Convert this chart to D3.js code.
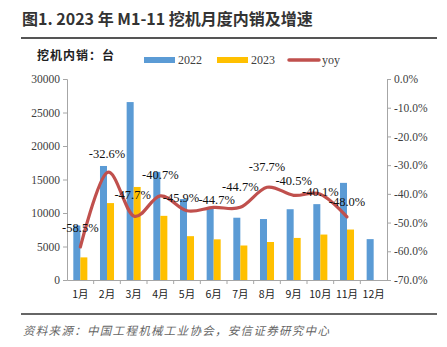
<!DOCTYPE html>
<html>
<head>
<meta charset="utf-8">
<script src="https://cdn.jsdelivr.net/npm/d3@7"></script>
<style>
  body { margin: 0; background: #fff; }
  svg { display: block; }
</style>
</head>
<body>
<div id="chart"></div>
<script>
// chart values
const months = ["1月", "2月", "3月", "4月", "5月", "6月", "7月", "8月", "9月", "10月", "11月", "12月"];
const sales2022 = [8132, 17018, 26556, 16141, 12090, 10868, 9296, 9100, 10563, 11323, 14496, 6100];
const sales2023 = [3375, 11480, 13887, 9575, 6542, 6069, 5149, 5671, 6279, 6783, 7531];
const yoy = [-58.5, -32.6, -47.7, -40.7, -45.9, -44.7, -44.7, -37.7, -40.5, -40.1, -48.0];
const leftTicks = [0, 5000, 10000, 15000, 20000, 25000, 30000];
const rightTicks = [0, -10, -20, -30, -40, -50, -60, -70];

// data label nudges (the original labels were dragged by hand)
const labelLift = [19, 19, 21, 21, 13, 7, 20, 20, 14, 2, 15];
const labelShift = [0, 0, -1, 0, -6, 3, 0, 0, 0, 0, 0];

const width = 447, height = 347;
const margin = { top: 79, right: 60, bottom: 67, left: 67 };
const serif = "'Liberation Serif', 'Times New Roman', serif";
const cjk = "'Noto Sans CJK SC', sans-serif";

const svg = d3.select("#chart").append("svg")
    .attr("width", width)
    .attr("height", height);

// title + rules
svg.append("text")
    .attr("x", 22).attr("y", 25)
    .attr("font-family", "'Noto Sans CJK SC', 'Liberation Sans', sans-serif")
    .attr("font-size", 16)
    .attr("font-weight", "bold")
    .attr("fill", "#333")
    .text("图1. 2023 年 M1-11 挖机月度内销及增速");

svg.append("line")
    .attr("x1", 21).attr("x2", 437).attr("y1", 38).attr("y2", 38)
    .attr("stroke", "#555").attr("stroke-width", 2);

svg.append("line")
    .attr("x1", 21).attr("x2", 437).attr("y1", 314).attr("y2", 314)
    .attr("stroke", "#333").attr("stroke-width", 1.5);

svg.append("text")
    .attr("x", 23).attr("y", 335)
    .attr("font-family", cjk)
    .attr("font-size", 11.5)
    .attr("letter-spacing", 1.3)
    .attr("font-style", "italic")
    .attr("fill", "#666")
    .text("资料来源：中国工程机械工业协会，安信证券研究中心");

svg.append("text")
    .attr("x", 37).attr("y", 60)
    .attr("font-family", cjk)
    .attr("font-size", 12)
    .attr("letter-spacing", 1)
    .attr("font-weight", "bold")
    .attr("fill", "#222")
    .text("挖机内销：台");

// scales
const x = d3.scaleBand()
    .domain(months)
    .range([margin.left, width - margin.right]);

const inner = d3.scaleBand()
    .domain(["2022", "2023"])
    .range([0, x.bandwidth()])
    .paddingInner(0)
    .paddingOuter(0.9);

const yLeft = d3.scaleLinear()
    .domain([0, 30000])
    .range([height - margin.bottom, margin.top]);

const yRight = d3.scaleLinear()
    .domain([-70, 0])
    .range([height - margin.bottom, margin.top]);

const colors = { "2022": "#5B9BD5", "2023": "#FFC000", yoy: "#C0504D" };

// bars
const series = [
  { key: "2022", values: sales2022 },
  { key: "2023", values: sales2023 }
];

series.forEach(s => {
  svg.append("g")
    .selectAll("rect")
    .data(s.values)
    .join("rect")
      .attr("x", (d, i) => x(months[i]) + inner(s.key))
      .attr("width", inner.bandwidth())
      .attr("y", d => yLeft(d))
      .attr("height", d => yLeft(0) - yLeft(d))
      .attr("fill", colors[s.key]);
});

// axes
const axisColor = "#a6a6a6";

const gLeft = svg.append("g")
    .attr("transform", `translate(${margin.left},0)`)
    .call(d3.axisLeft(yLeft).tickValues(leftTicks).tickSize(4).tickPadding(3).tickFormat(d3.format("d")));

const gRight = svg.append("g")
    .attr("transform", `translate(${width - margin.right},0)`)
    .call(d3.axisRight(yRight).tickValues(rightTicks).tickSize(4).tickPadding(3).tickFormat(d => d.toFixed(1) + "%"));

const gBottom = svg.append("g")
    .attr("transform", `translate(0,${height - margin.bottom})`)
    .call(d3.axisBottom(x).tickSize(0).tickPadding(11));

// category separators on x axis
gBottom.selectAll(".sep")
  .data(months.slice(1))
  .join("line")
    .attr("class", "sep")
    .attr("x1", d => x(d)).attr("x2", d => x(d))
    .attr("y1", 0).attr("y2", 4)
    .attr("stroke", axisColor);

[gLeft, gRight, gBottom].forEach(g => {
  g.selectAll(".domain").attr("stroke", axisColor);
  g.selectAll(".tick line").attr("stroke", axisColor);
  g.selectAll("text")
    .attr("font-family", serif)
    .attr("font-size", 11.5)
    .attr("fill", "#404040");
});
gBottom.selectAll("text").attr("font-family", cjk).attr("font-size", 10.5).attr("fill", "#222");

// yoy line
const line = d3.line()
    .x((d, i) => x(months[i]) + x.bandwidth() / 2)
    .y(d => yRight(d))
    .curve(d3.curveCardinal.tension(0));

svg.append("path")
    .datum(yoy)
    .attr("d", line)
    .attr("fill", "none")
    .attr("stroke", colors.yoy)
    .attr("stroke-width", 3.2)
    .attr("stroke-linecap", "round");

svg.append("g")
  .selectAll("text")
  .data(yoy)
  .join("text")
    .attr("x", (d, i) => x(months[i]) + x.bandwidth() / 2 + labelShift[i])
    .attr("y", (d, i) => yRight(d) - labelLift[i] + 4)
    .attr("text-anchor", "middle")
    .attr("font-family", serif)
    .attr("font-size", 12.5)
    .attr("fill", "#111")
    .text(d => d.toFixed(1) + "%");

// legend
const legend = [
  { key: "2022", label: "2022", type: "bar", x: 144 },
  { key: "2023", label: "2023", type: "bar", x: 217 },
  { key: "yoy", label: "yoy", type: "line", x: 288 }
];

const lg = svg.append("g").attr("transform", "translate(0,60)");
legend.forEach(l => {
  if (l.type === "bar") {
    lg.append("rect")
      .attr("x", l.x).attr("y", -3).attr("width", 31).attr("height", 6)
      .attr("fill", colors[l.key]);
  } else {
    lg.append("line")
      .attr("x1", l.x + 1).attr("x2", l.x + 31).attr("y1", 0).attr("y2", 0)
      .attr("stroke", colors[l.key]).attr("stroke-width", 3.5)
      .attr("stroke-linecap", "round");
  }
  lg.append("text")
    .attr("x", l.x + 34).attr("y", 4)
    .attr("font-family", serif)
    .attr("font-size", 12)
    .attr("fill", "#404040")
    .text(l.label);
});
</script>
</body>
</html>
